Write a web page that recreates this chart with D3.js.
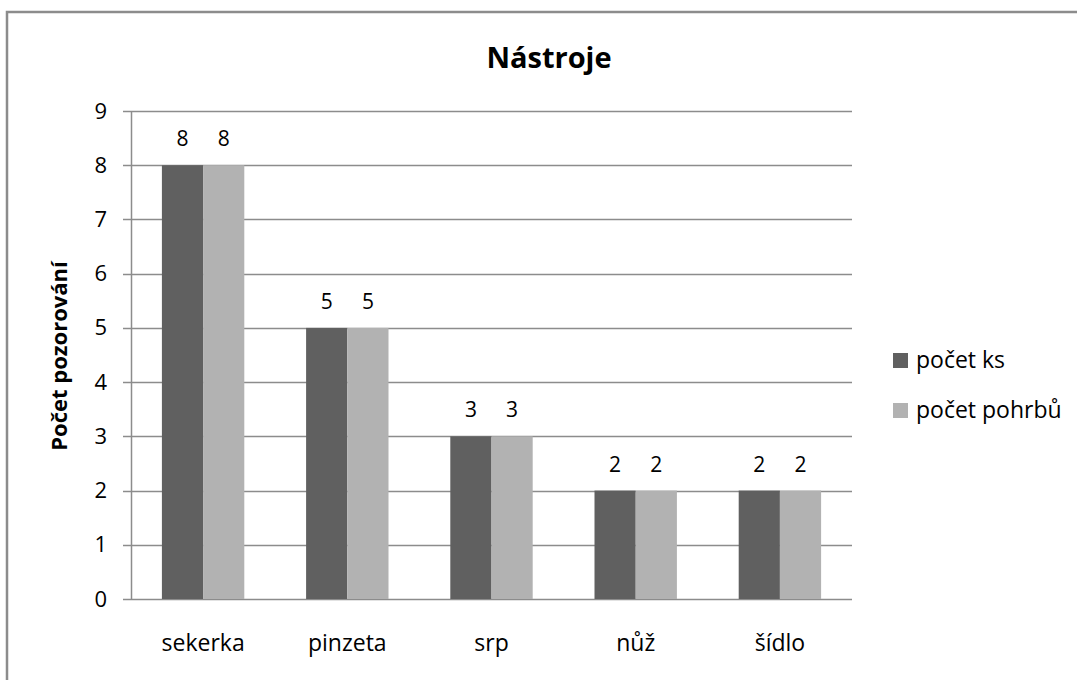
<!DOCTYPE html>
<html>
<head>
<meta charset="utf-8">
<script src="https://cdn.jsdelivr.net/npm/d3@7"></script>
<style>
  html, body { margin: 0; padding: 0; background: #fff; }
  svg { display: block; }
  text { font-family: "Open Sans", "Noto Sans", sans-serif; }
</style>
</head>
<body>
<svg id="chart" width="1077" height="680"></svg>
<script>
const categories = ["sekerka", "pinzeta", "srp", "nůž", "šídlo"];
const seriesNames = ["počet ks", "počet pohrbů"];
const pocetKs = [8, 5, 3, 2, 2];
const pocetPohrbu = [8, 5, 3, 2, 2];
const yTicks = [0, 1, 2, 3, 4, 5, 6, 7, 8, 9];
const seriesColors = ["#606060", "#b2b2b2"];
const title = "Nástroje";
const yTitle = "Počet pozorování";

const series = [pocetKs, pocetPohrbu];
const svg = d3.select("#chart");

// outer chart border (extends beyond the visible frame on right/bottom)
svg.append("rect")
  .attr("x", 7).attr("y", 12).attr("width", 1120).attr("height", 720)
  .attr("fill", "#fff").attr("stroke", "#8c8c8c").attr("stroke-width", 2.5);

const plot = { left: 131, right: 852, top: 111, bottom: 599 };

const x = d3.scaleBand().domain(categories).range([plot.left, plot.right]).paddingInner(1.5 / 3.5).paddingOuter(0.75 / 3.5);
const xSub = d3.scaleBand().domain(seriesNames).range([0, x.bandwidth()]);
const y = d3.scaleLinear().domain([0, 9]).range([plot.bottom, plot.top]);

// gridlines
svg.append("g").selectAll("line").data(yTicks).join("line")
  .attr("x1", plot.left - 8).attr("x2", plot.right)
  .attr("y1", d => Math.round(y(d)) + 0.5).attr("y2", d => Math.round(y(d)) + 0.5)
  .attr("stroke", "#8c8c8c").attr("stroke-width", 1.5);

// y axis labels
const yAxis = d3.axisLeft(y).tickValues(yTicks).tickSize(0).tickPadding(24).tickFormat(d3.format("d"));
const gy = svg.append("g").attr("transform", `translate(${plot.left},0)`).call(yAxis);
gy.select(".domain").remove();
gy.selectAll("text").attr("font-size", 22).attr("fill", "#000").attr("font-family", "Open Sans");

// bars + data labels
categories.forEach((c, i) => {
  seriesNames.forEach((s, j) => {
    const v = series[j][i];
    svg.append("rect")
      .attr("x", x(c) + xSub(s)).attr("width", xSub.bandwidth())
      .attr("y", y(v)).attr("height", y(0) - y(v))
      .attr("fill", seriesColors[j]);
    svg.append("text")
      .attr("x", x(c) + xSub(s) + xSub.bandwidth() / 2)
      .attr("y", y(v) - 19)
      .attr("text-anchor", "middle")
      .attr("font-size", 21)
      .attr("fill", "#000")
      .text(v);
  });
});

// y axis line
svg.append("line").attr("x1", plot.left + 0.5).attr("x2", plot.left + 0.5)
  .attr("y1", plot.top).attr("y2", plot.bottom)
  .attr("stroke", "#8c8c8c").attr("stroke-width", 1.5);

// x axis labels
const xAxis = d3.axisBottom(x).tickSize(0).tickPadding(36);
const gx = svg.append("g").attr("transform", `translate(0,${plot.bottom})`).call(xAxis);
gx.select(".domain").remove();
gx.selectAll("text").attr("font-size", 23).attr("fill", "#000").attr("font-family", "Open Sans");

// title
svg.append("text").attr("x", 549).attr("y", 68).attr("text-anchor", "middle")
  .attr("font-size", 29).attr("font-weight", "bold").attr("fill", "#000").text(title);

// y title
svg.append("text").attr("transform", "translate(67,356) rotate(-90)")
  .attr("text-anchor", "middle").attr("font-size", 22).attr("font-weight", "bold")
  .attr("fill", "#000").text(yTitle);

// legend
const legendY = [360, 410];
seriesNames.forEach((s, j) => {
  svg.append("rect").attr("x", 893).attr("y", legendY[j] - 7).attr("width", 15).attr("height", 15)
    .attr("fill", seriesColors[j]);
  svg.append("text").attr("x", 916).attr("y", legendY[j]).attr("dy", "0.35em")
    .attr("font-size", 23).attr("fill", "#000").text(s);
});
</script>
</body>
</html>
